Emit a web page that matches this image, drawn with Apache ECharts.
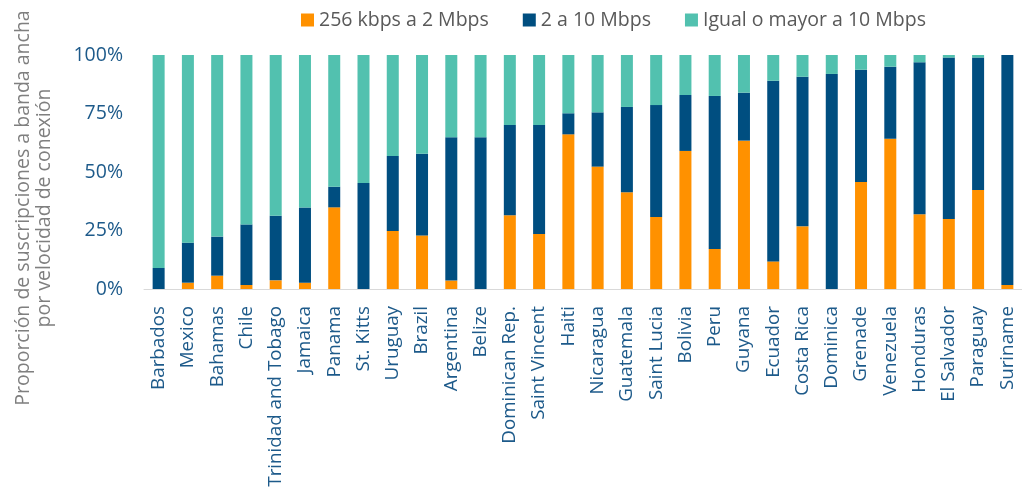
<!DOCTYPE html>
<html>
<head>
<meta charset="utf-8">
<script src="https://cdn.jsdelivr.net/npm/echarts@6/dist/echarts.min.js"></script>
<style>html,body{margin:0;padding:0;background:#fff}#c{width:1022px;height:491px}</style>
</head>
<body>
<div id="c"></div>
<script>
const categories = ["Barbados","Mexico","Bahamas","Chile","Trinidad and Tobago","Jamaica","Panama","St. Kitts","Uruguay","Brazil","Argentina","Belize","Dominican Rep.","Saint Vincent","Haiti","Nicaragua","Guatemala","Saint Lucia","Bolivia","Peru","Guyana","Ecuador","Costa Rica","Dominica","Grenade","Venezuela","Honduras","El Salvador","Paraguay","Suriname"];
const low = [0,2.7,5.7,1.7,3.7,2.7,34.9,0,24.8,22.9,3.6,0,31.5,23.5,66.1,52.3,41.3,30.8,59.0,17.1,63.4,11.8,26.8,0,45.7,64.2,31.9,29.9,42.3,1.7];
const mid = [9.0,17.1,16.7,25.9,27.6,32.1,8.8,45.3,32.0,34.9,61.2,64.8,38.6,46.6,9.0,23.2,36.5,47.8,23.9,65.4,20.5,77.2,63.9,91.9,48.0,30.8,65.0,69.0,56.6,98.3];
const high = [91.0,80.2,77.6,72.4,68.7,65.2,56.3,54.7,43.2,42.2,35.2,35.2,29.9,29.9,24.9,24.5,22.2,21.4,17.1,17.5,16.1,11.0,9.3,8.1,6.3,5.0,3.1,1.1,1.1,0];
const seriesNames = ["256 kbps a 2 Mbps","2 a 10 Mbps","Igual o mayor a 10 Mbps"];
const yTicks = [0,25,50,75,100];
const yTitle = "Proporción de suscripciones a banda ancha\npor velocidad de conexión";

const colors = ["#FF9100","#004E80","#52C1AF"];
const FONT = "Open Sans";
const chart = echarts.init(document.getElementById('c'));
const mk = (name, data, i) => ({
  name, type: 'bar', stack: 'total', data, barWidth: 12,
  itemStyle: { color: colors[i] }
});
chart.setOption({
  animation: false,
  textStyle: { fontFamily: FONT },
  legend: {
    top: 5, left: 296, itemWidth: 13, itemHeight: 13, itemGap: 34,
    icon: 'rect',
    textStyle: { fontSize: 19.5, color: '#595959', fontFamily: FONT }
  },
  grid: { left: 144, width: 881, top: 55, bottom: 202 },
  xAxis: {
    type: 'category', data: categories,
    axisTick: { show: false },
    axisLine: { lineStyle: { color: '#d9d9d9', width: 1 } },
    axisLabel: { rotate: 90, interval: 0, fontSize: 18.8, color: '#1D5A8A', margin: 17, fontFamily: FONT }
  },
  yAxis: {
    type: 'value', min: 0, max: 100, interval: 25,
    splitLine: { show: false },
    axisLine: { show: false }, axisTick: { show: false },
    axisLabel: { fontSize: 19.5, color: '#1D5A8A', margin: 21, fontFamily: FONT,
      formatter: v => yTicks.includes(v) ? v + '%' : '' }
  },
  graphic: [{
    type: 'text', x: 34, y: 208, rotation: Math.PI / 2,
    style: { text: yTitle, font: '19.5px "' + FONT + '"', fill: '#7f7f7f',
      textAlign: 'center', textVerticalAlign: 'middle', lineHeight: 21 }
  }],
  series: [mk(seriesNames[0], low, 0), mk(seriesNames[1], mid, 1), mk(seriesNames[2], high, 2)]
});
</script>
</body>
</html>
